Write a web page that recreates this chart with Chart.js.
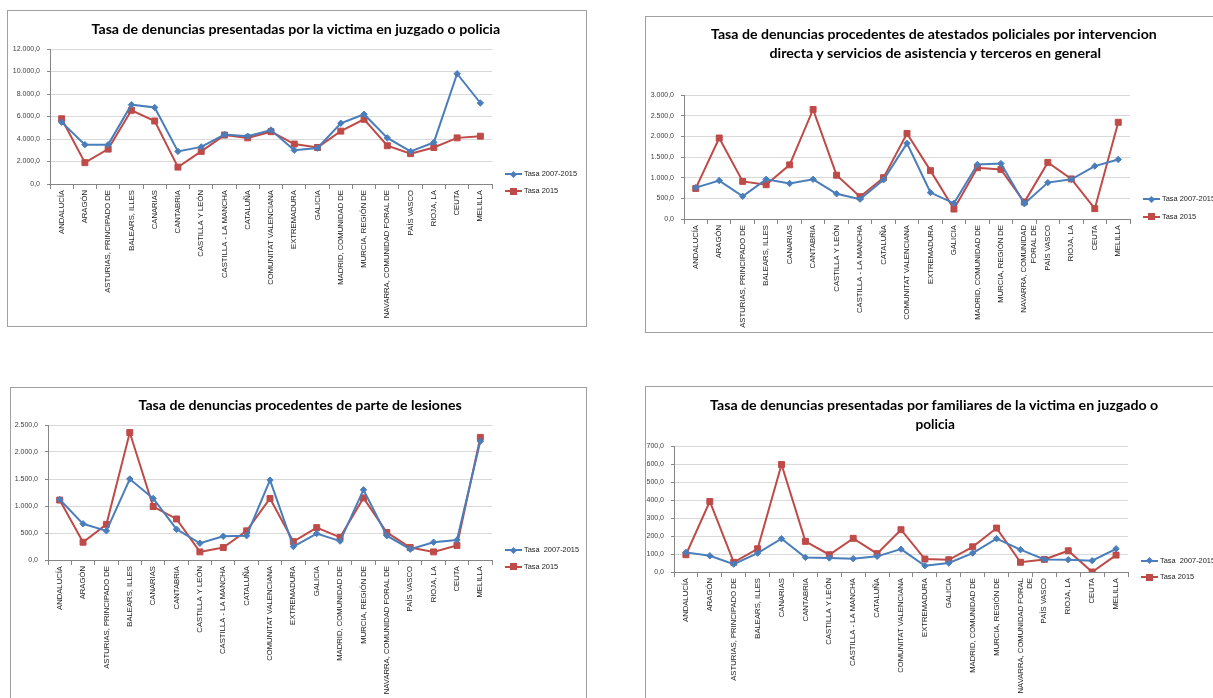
<!DOCTYPE html>
<html>
<head>
<meta charset="utf-8">
<script src="https://cdn.jsdelivr.net/npm/chart.js@4.4.1/dist/chart.umd.min.js"></script>
<style>
html,body{margin:0;padding:0;background:#fff;width:1213px;height:698px;overflow:hidden;position:relative;}
.panel{position:absolute;border:1px solid #a0a0a0;box-sizing:border-box;background:#fff;}
canvas{position:absolute;}
.title{position:absolute;white-space:nowrap;font-family:Lato,"Open Sans",sans-serif;font-weight:bold;font-size:14px;color:#000;line-height:1;}
.leg{position:absolute;white-space:pre;font-family:"Liberation Sans",Arial,sans-serif;color:#1a1a1a;line-height:12px;height:12px;}
</style>
</head>
<body>
<script>
// ---------- DATA ----------
const categories = ["ANDALUCÍA","ARAGÓN","ASTURIAS, PRINCIPADO DE","BALEARS, ILLES","CANARIAS","CANTABRIA","CASTILLA Y LEÓN","CASTILLA - LA MANCHA","CATALUÑA","COMUNITAT VALENCIANA","EXTREMADURA","GALICIA","MADRID, COMUNIDAD DE","MURCIA, REGIÓN DE","NAVARRA, COMUNIDAD FORAL DE","PAÍS VASCO","RIOJA, LA","CEUTA","MELILLA"];
const navarraWrap2 = ["NAVARRA, COMUNIDAD","FORAL DE"];
const navarraWrap4 = ["NAVARRA, COMUNIDAD FORAL","DE"];

const victima0715 = [5500,3500,3500,7050,6800,2900,3300,4400,4250,4800,3000,3200,5400,6200,4100,2900,3700,9800,7200];
const victima2015 = [5800,1900,3100,6550,5600,1500,2900,4350,4100,4650,3550,3250,4700,5750,3400,2700,3250,4100,4250];

const atestados0715 = [760,930,550,960,860,960,610,480,950,1830,640,380,1320,1340,370,880,960,1280,1440];
const atestados2015 = [740,1960,910,830,1310,2650,1060,540,1000,2070,1170,240,1240,1200,410,1370,970,250,2340];

const lesiones0715 = [1120,670,540,1500,1140,570,310,440,450,1480,250,490,350,1300,450,200,330,370,2200];
const lesiones2015 = [1110,330,660,2360,990,760,150,230,540,1140,340,600,420,1150,510,230,150,270,2270];

const familiares0715 = [109,90,44,105,185,81,78,74,87,127,35,50,105,185,124,70,68,63,129];
const familiares2015 = [96,392,54,129,597,170,96,187,102,235,72,68,140,244,54,70,118,0,94];

const yMaxes = [12000, 3000, 2500, 700];
const ySteps = [2000, 500, 500, 100];

const titles1 = ["Tasa de denuncias presentadas por la victima en juzgado o policia"];
const titles2 = ["Tasa de denuncias procedentes de atestados policiales por intervencion","directa y servicios de asistencia y terceros en general"];
const titles3 = ["Tasa de denuncias procedentes de parte de lesiones"];
const titles4 = ["Tasa de denuncias presentadas por familiares de la victima en juzgado o","policia"];

const legendA = ["Tasa 2007-2015","Tasa 2015"];
const legendB = ["Tasa  2007-2015","Tasa 2015"];

// ---------- STYLE ----------
const BLUE = '#4a7ebb';
const RED = '#be4b48';
const FONT = '"Liberation Sans", Arial, sans-serif';

function fmt(v){
  const s = Math.round(v).toString().replace(/\B(?=(\d{3})+(?!\d))/g, '.');
  return s + ',0';
}

function addDiv(cls, style, text){
  const d = document.createElement('div');
  d.className = cls;
  Object.assign(d.style, style);
  if (text !== undefined) d.textContent = text;
  document.body.appendChild(d);
  return d;
}

function addTitle(text, cx, cy, targetW){
  const d = addDiv('title', {left: '0px', top: '0px'}, text);
  const w = d.offsetWidth, h = d.offsetHeight;
  const s = targetW / w;
  d.style.left = (cx - w/2) + 'px';
  d.style.top = (cy - h/2) + 'px';
  d.style.transform = 'scaleX(' + s + ')';
  d.style.transformOrigin = 'center center';
}

function addLegend(x, ys, labels){
  labels.forEach((lab, i) => {
    const y = ys[i];
    const color = i === 0 ? BLUE : RED;
    addDiv('', {position:'absolute', left: x+'px', top: (y-1)+'px', width:'17px', height:'2px', background: color});
    if (i === 0) {
      addDiv('', {position:'absolute', left: (x+6)+'px', top: (y-2.5)+'px', width:'5px', height:'5px', background: color, transform:'rotate(45deg)'});
    } else {
      addDiv('', {position:'absolute', left: (x+5)+'px', top: (y-3.5)+'px', width:'7px', height:'7px', background: color});
    }
    addDiv('leg', {left: (x+19)+'px', top: (y-6)+'px', fontSize: '7.4px'}, lab);
  });
}

function makePanel(p){
  addDiv('panel', {left: p.box[0]+'px', top: p.box[1]+'px', width: p.box[2]+'px', height: p.box[3]+'px'});
  const c = document.createElement('canvas');
  c.width = p.cv[2]; c.height = p.cv[3];
  Object.assign(c.style, {left: p.cv[0]+'px', top: p.cv[1]+'px', width: p.cv[2]+'px', height: p.cv[3]+'px'});
  document.body.appendChild(c);
  const plotL = p.plot[0] - p.cv[0], plotR = p.plot[1] - p.cv[0];
  const plotT = p.plot[2] - p.cv[1], plotB = p.plot[3] - p.cv[1];
  new Chart(c.getContext('2d'), {
    type: 'line',
    data: {
      labels: p.labels,
      datasets: [
        {label: p.legend[0], data: p.blue, borderColor: BLUE, backgroundColor: BLUE, borderWidth: 2,
         pointStyle: 'rectRot', pointRadius: 3.2, pointBorderWidth: 1, pointBorderColor: BLUE, tension: 0},
        {label: p.legend[1], data: p.red, borderColor: RED, backgroundColor: RED, borderWidth: 2,
         pointStyle: 'rect', pointRadius: 4.2, pointBorderWidth: 1, pointBorderColor: RED, tension: 0}
      ]
    },
    options: {
      responsive: false, animation: false, devicePixelRatio: 1,
      layout: {padding: {left: 0, top: plotT, right: p.cv[2] - plotR, bottom: 0}},
      plugins: {legend: {display: false}, title: {display: false}, tooltip: {enabled: false}},
      scales: {
        x: {
          type: 'category', offset: true,
          grid: {offset: true, drawOnChartArea: false, drawTicks: true, tickLength: 5, color: '#868686', tickColor: '#868686'},
          border: {display: true, color: '#868686', width: 1},
          ticks: {autoSkip: false, maxRotation: 90, minRotation: 90, padding: 1, color: '#1a1a1a',
                  font: {family: FONT, size: 7.7}},
          afterFit: (s) => { s.height = p.cv[3] - plotB; }
        },
        y: {
          min: 0, max: p.ymax,
          grid: {color: '#d9d9d9', lineWidth: 1, tickLength: 3, tickColor: '#868686', drawTicks: true},
          border: {display: true, color: '#868686', width: 1},
          ticks: {stepSize: p.ystep, padding: 7, color: '#404040', font: {family: FONT, size: 7}, callback: (v) => fmt(v)},
          afterFit: (s) => { s.width = plotL; }
        }
      }
    }
  });
}

const labels2 = categories.map(c => c === "NAVARRA, COMUNIDAD FORAL DE" ? navarraWrap2 : c);
const labels4 = categories.map(c => c === "NAVARRA, COMUNIDAD FORAL DE" ? navarraWrap4 : c);

makePanel({box:[7,10,580,317], cv:[8,11,577,314], plot:[50,492,49,184], labels: categories,
  blue: victima0715, red: victima2015, ymax: yMaxes[0], ystep: ySteps[0], legend: legendA});
makePanel({box:[645,16,620,317], cv:[646,17,567,314], plot:[684,1130,95,219], labels: labels2,
  blue: atestados0715, red: atestados2015, ymax: yMaxes[1], ystep: ySteps[1], legend: legendA});
makePanel({box:[10,387,577,340], cv:[11,388,575,310], plot:[48,492,425,560], labels: categories,
  blue: lesiones0715, red: lesiones2015, ymax: yMaxes[2], ystep: ySteps[2], legend: legendB});
makePanel({box:[645,386,620,340], cv:[646,387,567,311], plot:[674,1128,446,572], labels: labels4,
  blue: familiares0715, red: familiares2015, ymax: yMaxes[3], ystep: ySteps[3], legend: legendB});

addTitle(titles1[0], 296, 29, 409);
addTitle(titles2[0], 934, 34, 446);
addTitle(titles2[1], 935, 53, 331);
addTitle(titles3[0], 299.5, 405, 323);
addTitle(titles4[0], 934.4, 405, 448);
addTitle(titles4[1], 935, 424, 39);

addLegend(505, [174, 191], legendA);
addLegend(1143, [199, 216.5], legendA);
addLegend(505, [550, 566.7], legendB);
addLegend(1141, [560.7, 577.3], legendB);
</script>
</body>
</html>
